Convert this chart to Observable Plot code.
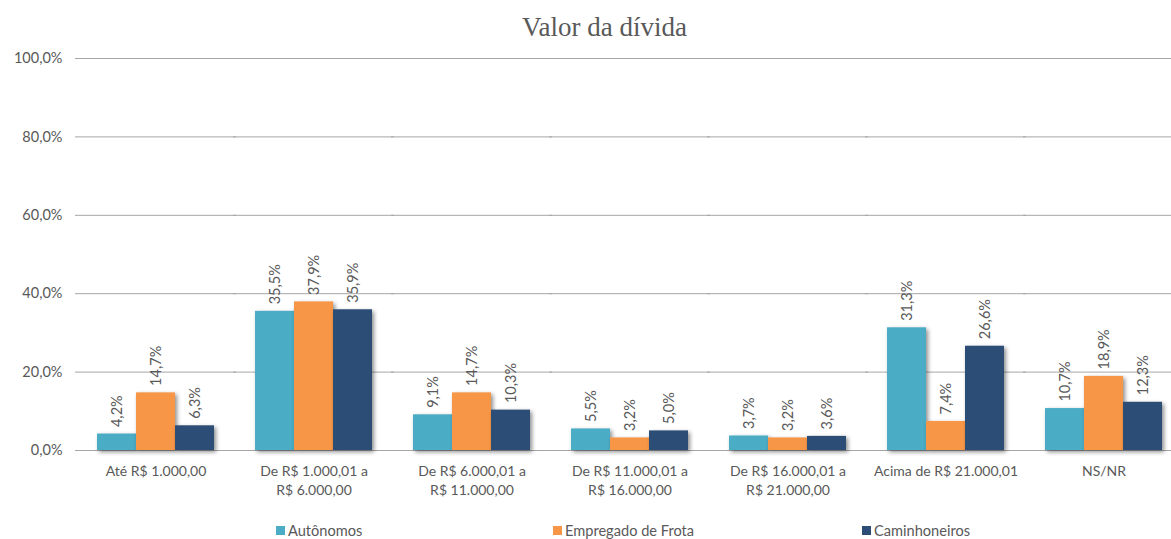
<!DOCTYPE html>
<html><head><meta charset="utf-8">
<script src="https://cdn.jsdelivr.net/npm/d3@7"></script>
<script src="https://cdn.jsdelivr.net/npm/@observablehq/plot@0.6"></script>
<style>
body{margin:0;background:#fff;font-family:Lato,"Liberation Sans",sans-serif;overflow:hidden;}
#title{height:50px;line-height:54px;text-align:center;padding-left:38px;font-family:"Liberation Serif",serif;font-size:27px;color:#595959;}
#legend{position:relative;height:29px;font-size:14.6px;color:#595959;}
.li{position:absolute;top:12px;display:flex;align-items:center;white-space:nowrap;}
.sw{width:9px;height:9px;margin-right:3px;}
g[aria-label=bar] rect{filter:drop-shadow(2px 2px 2px rgba(0,0,0,0.45));}
</style></head>
<body>
<div id="title">Valor da dívida</div>
<div id="chart"></div>
<div id="legend"></div>
<script>
const categories = ["Até R$ 1.000,00","De R$ 1.000,01 a\nR$ 6.000,00","De R$ 6.000,01 a\nR$ 11.000,00","De R$ 11.000,01 a\nR$ 16.000,00","De R$ 16.000,01 a\nR$ 21.000,00","Acima de R$ 21.000,01","NS/NR"];
const seriesNames = ["Autônomos","Empregado de Frota","Caminhoneiros"];
const autonomos = [4.2,35.5,9.1,5.5,3.7,31.3,10.7];
const empregado = [14.7,37.9,14.7,3.2,3.2,7.4,18.9];
const caminhoneiros = [6.3,35.9,10.3,5.0,3.6,26.6,12.3];
const colors = ["#4BACC6","#F79646","#2C4D75"];
const yTicks = [0,20,40,60,80,100];

const seriesValues = [autonomos, empregado, caminhoneiros];
const data = [];
categories.forEach((c,i)=>seriesNames.forEach((s,j)=>data.push({cat:c,series:s,value:seriesValues[j][i]})));
const fmt = v => v.toFixed(1).replace(".",",")+"%";

const chart = Plot.plot({
  width:1171, height:460,
  marginTop:8, marginBottom:60, marginLeft:75, marginRight:1,
  style:{fontFamily:"Lato, 'Liberation Sans', sans-serif", fontSize:"14px", color:"#595959", background:"#fff", overflow:"hidden"},
  fx:{domain:categories, range:[74,1184], paddingInner:0.25, paddingOuter:0.126, label:null},
  x:{domain:seriesNames, padding:0, axis:null},
  y:{domain:[0,100], label:null},
  color:{domain:seriesNames, range:colors},
  marks:[
    Plot.gridY(yTicks,{stroke:"#a6a6a6", strokeOpacity:1, strokeWidth:1, insetLeft:-21, insetRight:-21}),
    Plot.axisY(yTicks,{tickSize:0, tickPadding:34, tickFormat:fmt, fontSize:14.5, fill:"#595959", label:null}),
    Plot.barY(data,{fx:"cat", x:"series", y:"value", fill:"series"}),
    Plot.text(data,{fx:"cat", x:"series", y:"value", text:d=>fmt(d.value), rotate:-90, textAnchor:"start", dy:-7, fontSize:14.5, fill:"#595959"}),
    Plot.axisFx({anchor:"bottom", tickSize:0, tickPadding:12, fontSize:14, fill:"#595959", lineHeight:1.35, label:null})
  ]
});
document.getElementById("chart").appendChild(chart);

const legendX = [276, 553, 862];
const legend = document.getElementById("legend");
seriesNames.forEach((s,i)=>{
  const d = document.createElement("div");
  d.className = "li";
  d.style.left = legendX[i]+"px";
  d.innerHTML = `<span class="sw" style="background:${colors[i]}"></span><span>${s}</span>`;
  legend.appendChild(d);
});
</script>
</body></html>
